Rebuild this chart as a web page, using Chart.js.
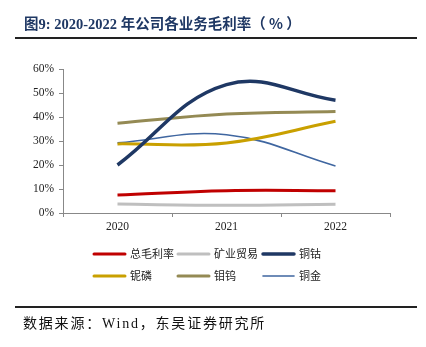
<!DOCTYPE html>
<html>
<head>
<meta charset="utf-8">
<script src="https://cdn.jsdelivr.net/npm/chart.js@4/dist/chart.umd.min.js"></script>
<style>
  html, body { margin:0; padding:0; background:#fff; }
  #wrap { position:relative; width:426px; height:347px; overflow:hidden; }
  #title { position:absolute; left:24px; top:13px; font-family:"Liberation Serif","Noto Sans CJK SC",serif; font-weight:bold; font-size:14.5px; color:#1F3864; white-space:nowrap; line-height:20px; }
  #title .cjk { font-family:"Noto Sans CJK SC",sans-serif; }
  #topline { position:absolute; left:15px; width:402px; top:37px; height:2px; background:#222; }
  #botline { position:absolute; left:15px; width:402px; top:306px; height:2px; background:#222; }
  #source { position:absolute; left:23px; top:314px; font-family:"Liberation Serif","Noto Sans CJK SC",serif; font-size:14px; color:#111; white-space:nowrap; line-height:20px; letter-spacing:1.8px; }
  canvas { position:absolute; left:0; top:0; }
</style>
</head>
<body>
<div id="wrap">
  <canvas id="c" width="426" height="347"></canvas>
  <div id="title"><span class="cjk">图</span>9: 2020-2022 <span class="cjk">年公司各业务毛利率（ % ）</span></div>
  <div id="topline"></div>
  <div id="botline"></div>
  <div id="source"><span>数据来源：</span>Wind<span>，东吴证券研究所</span></div>
</div>
<script>
const categories = ['2020', '2021', '2022'];
const seriesNames = ['总毛利率', '矿业贸易', '铜钴', '铌磷', '钼钨', '铜金'];
const grossMargin = [7.5, 9.3, 9.3];
const miningTrade = [3.7, 3.2, 3.6];
const copperCobalt = [20.0, 53.5, 47.0];
const niobiumPhosphate = [28.8, 29.2, 38.2];
const molybdenumTungsten = [37.4, 41.2, 42.3];
const copperGold = [29.2, 32.6, 19.6];
const yTicks = [0, 10, 20, 30, 40, 50, 60];

const seriesValues = [grossMargin, miningTrade, copperCobalt, niobiumPhosphate, molybdenumTungsten, copperGold];
const colors = ['#C00000', '#BFBFBF', '#1F3864', '#C9A000', '#948A54', '#3F66A0'];
const widths = [3, 3, 3.5, 3, 3, 1.6];

const datasets = seriesNames.map((n, i) => ({
  label: n,
  data: seriesValues[i],
  borderColor: colors[i],
  backgroundColor: colors[i],
  borderWidth: widths[i],
  pointRadius: 0,
  tension: 0.4,
  fill: false,
  order: i === 2 ? -1 : i
}));

const legendPlugin = {
  id: 'gridLegend',
  afterDraw(chart) {
    const ctx = chart.ctx;
    const ds = chart.data.datasets;
    const colX = [93, 177, 262];
    const rowY = [254, 276];
    ctx.save();
    ds.forEach((d, i) => {
      const x = colX[i % 3], y = rowY[Math.floor(i / 3)];
      ctx.strokeStyle = d.borderColor;
      ctx.lineWidth = d.borderWidth;
      ctx.lineCap = 'round';
      ctx.beginPath();
      ctx.moveTo(x + 1, y);
      ctx.lineTo(x + 32, y);
      ctx.stroke();
      ctx.fillStyle = '#222';
      ctx.font = '11px "Noto Sans CJK SC"';
      ctx.textBaseline = 'middle';
      ctx.textAlign = 'left';
      ctx.fillText(d.label, x + 37, y);
    });
    ctx.restore();
  }
};

new Chart(document.getElementById('c'), {
  type: 'line',
  data: { labels: categories, datasets },
  options: {
    responsive: false,
    animation: false,
    events: [],
    layout: { padding: { top: 69, left: 0, right: 36, bottom: 104 } },
    plugins: { legend: { display: false }, tooltip: { enabled: false } },
    scales: {
      x: {
        offset: true,
        grid: { display: true, drawOnChartArea: false, drawTicks: true, tickLength: 4, offset: true, color: '#888' },
        border: { display: true, color: '#888', width: 1 },
        ticks: { color: '#222', padding: 3, font: { family: '"Liberation Serif", serif', size: 11.5 }, maxRotation: 0 },
        afterFit(s) { s.height = 30; }
      },
      y: {
        min: 0, max: 60,
        afterBuildTicks(s) { s.ticks = yTicks.map(v => ({ value: v })); },
        grid: { display: true, drawOnChartArea: false, drawTicks: true, tickLength: 4, color: '#888' },
        border: { display: true, color: '#888', width: 1 },
        ticks: { color: '#222', padding: 5, font: { family: '"Liberation Serif", serif', size: 11.5 }, callback: v => v + '%' },
        afterFit(s) { s.width = 63; }
      }
    }
  },
  plugins: [legendPlugin]
});
</script>
</body>
</html>
